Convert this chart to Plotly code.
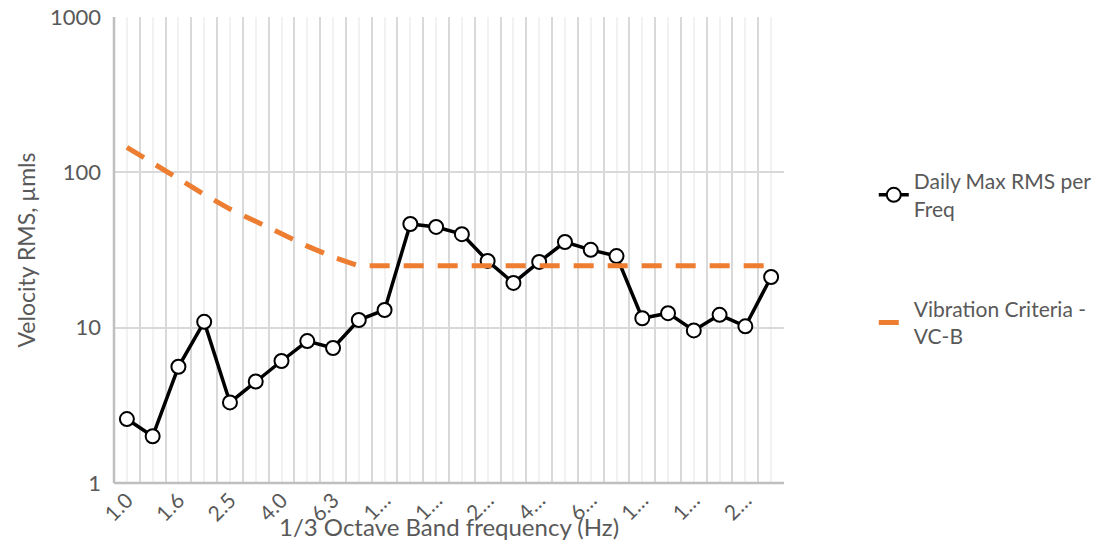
import plotly.graph_objects as go

# 1/3 octave band centre frequencies (Hz)
frequencies = ["1.0", "1.25", "1.6", "2.0", "2.5", "3.15", "4.0", "5.0", "6.3", "8.0",
               "10.0", "12.5", "16.0", "20.0", "25.0", "31.5", "40.0", "50.0", "63.0",
               "80.0", "100.0", "125.0", "160.0", "200.0", "250.0", "315.0"]

# Tick labels as displayed (every other band, truncated)
tick_labels = ["1.0", "", "1.6", "", "2.5", "", "4.0", "", "6.3", "",
               "1…", "", "1…", "", "2…", "", "4…", "", "6…", "",
               "1…", "", "1…", "", "2…", ""]

daily_max_rms = [2.58, 2.0, 5.6, 10.9, 3.3, 4.5, 6.1, 8.2, 7.4, 11.2,
                 13.0, 46.5, 44.5, 40.0, 26.9, 19.4, 26.5, 35.6, 31.7,
                 28.9, 11.5, 12.4, 9.6, 12.1, 10.2, 21.2]

vc_b = [145, 114, 90, 72, 58, 48, 40, 33.5, 28.5, 25,
        25, 25, 25, 25, 25, 25, 25, 25, 25,
        25, 25, 25, 25, 25, 25, 25]

idx = list(range(len(frequencies)))
boundaries = [i - 0.5 for i in range(len(frequencies) + 1)]

FONT = "Lato"
GRAY = "#595959"

fig = go.Figure()

fig.add_trace(go.Scatter(
    x=idx, y=daily_max_rms, customdata=frequencies,
    name="Daily Max RMS per<br>Freq",
    mode="lines+markers",
    line=dict(color="#000000", width=3.5),
    marker=dict(symbol="circle", size=14, color="#ffffff",
                line=dict(color="#000000", width=2)),
    legendgroup="a",
    hovertemplate="%{customdata} Hz: %{y}<extra></extra>",
))

fig.add_trace(go.Scatter(
    x=idx, y=vc_b, customdata=frequencies,
    name="Vibration Criteria -<br>VC-B",
    mode="lines",
    line=dict(color="#ED7D31", width=5, dash="20px,14px"),
    legendgroup="b",
    hovertemplate="%{customdata} Hz: %{y}<extra></extra>",
))

fig.update_layout(
    width=1140, height=546,
    margin=dict(l=114, r=356, t=17, b=63),
    paper_bgcolor="#ffffff", plot_bgcolor="#ffffff",
    font=dict(family=FONT, size=21, color=GRAY),
    showlegend=True,
    legend=dict(
        x=1.134, y=0.691, xanchor="left", yanchor="top",
        font=dict(family=FONT, size=21, color=GRAY),
        tracegroupgap=70, traceorder="grouped",
        bgcolor="rgba(0,0,0,0)",
    ),
    xaxis=dict(
        range=[-0.5, len(frequencies) - 0.5],
        tickmode="array", tickvals=idx, ticktext=tick_labels,
        tickangle=-45, ticks="", showline=False, zeroline=False,
        showgrid=True, gridcolor="#f2f2f2", gridwidth=2,
        tickfont=dict(family=FONT, size=21, color=GRAY),
        minor=dict(tickmode="array", tickvals=boundaries, showgrid=True,
                   gridcolor="#d9d9d9", gridwidth=2, ticks=""),
        automargin=False,
    ),
    yaxis=dict(
        type="log", range=[0, 3],
        tickmode="array", tickvals=[1, 10, 100, 1000],
        ticktext=["1", "10", "100", "1000"],
        showgrid=True, gridcolor="#d9d9d9", gridwidth=2,
        zeroline=False, ticks="", showline=False,
        ticklabelstandoff=12,
        tickfont=dict(family=FONT, size=22, color=GRAY),
        title=dict(text="Velocity RMS, µmls", font=dict(family=FONT, size=23, color=GRAY),
                   standoff=7),
        automargin=False,
    ),
    shapes=[
        dict(type="line", xref="paper", yref="paper", x0=0, x1=1, y0=0, y1=0,
             line=dict(color="#bfbfbf", width=2.5)),
        dict(type="line", xref="paper", yref="paper", x0=0, x1=0, y0=0, y1=1,
             line=dict(color="#bfbfbf", width=2.5)),
    ],
    annotations=[
        dict(text="1/3 Octave Band frequency (Hz)", xref="paper", yref="paper",
             x=0.5, y=-0.0944, xanchor="center", yanchor="middle", showarrow=False,
             font=dict(family=FONT, size=24, color=GRAY)),
    ],
)

fig.write_html("out.html",
               config={"displayModeBar": False},
               post_script="document.body.style.margin='0';document.body.style.overflow='hidden';")
